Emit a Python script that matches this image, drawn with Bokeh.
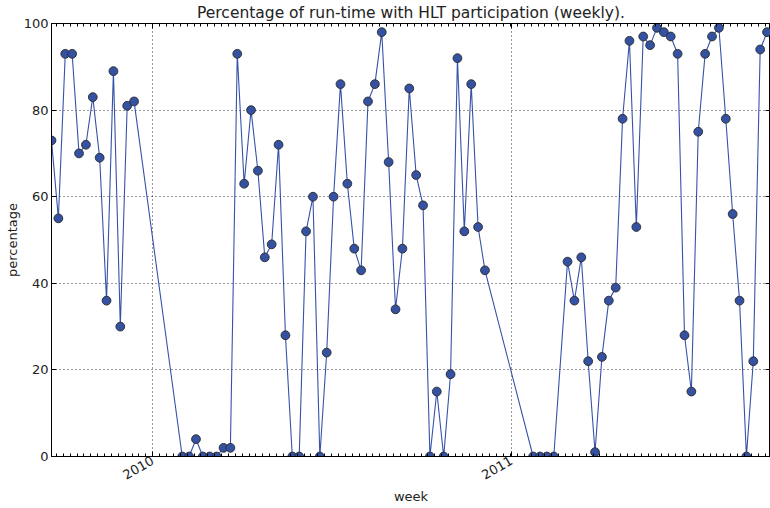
import math
import datetime as dt
from bokeh.plotting import figure
from bokeh.models import (ColumnDataSource, Range1d, FixedTicker, DatetimeAxis,
                          LinearAxis, DatetimeTickFormatter, CustomJSTickFormatter)
from bokeh.embed import file_html
from bokeh.resources import INLINE

# ---- data (weekly points) ----
dates = [
    "2009-09-20", "2009-09-27", "2009-10-04", "2009-10-11", "2009-10-18", "2009-10-25",
    "2009-11-01", "2009-11-08", "2009-11-15", "2009-11-22", "2009-11-29", "2009-12-06",
    "2009-12-13",
    "2010-01-31", "2010-02-07", "2010-02-14", "2010-02-21", "2010-02-28", "2010-03-07",
    "2010-03-14", "2010-03-21", "2010-03-28", "2010-04-04", "2010-04-11", "2010-04-18",
    "2010-04-25", "2010-05-02", "2010-05-09", "2010-05-16", "2010-05-23", "2010-05-30",
    "2010-06-06", "2010-06-13", "2010-06-20", "2010-06-27", "2010-07-04", "2010-07-11",
    "2010-07-18", "2010-07-25", "2010-08-01", "2010-08-08", "2010-08-15", "2010-08-22",
    "2010-08-29", "2010-09-05", "2010-09-12", "2010-09-19", "2010-09-26", "2010-10-03",
    "2010-10-10", "2010-10-17", "2010-10-24", "2010-10-31", "2010-11-07", "2010-11-14",
    "2010-11-21", "2010-11-28", "2010-12-05",
    "2011-01-23", "2011-01-30", "2011-02-06", "2011-02-13",
    "2011-02-27", "2011-03-06", "2011-03-13", "2011-03-20", "2011-03-27", "2011-04-03",
    "2011-04-10", "2011-04-17", "2011-04-24", "2011-05-01", "2011-05-08", "2011-05-15",
    "2011-05-22", "2011-05-29", "2011-06-05", "2011-06-12", "2011-06-19", "2011-06-26",
    "2011-07-03", "2011-07-10", "2011-07-17", "2011-07-24", "2011-07-31", "2011-08-07",
    "2011-08-14", "2011-08-21", "2011-08-28", "2011-09-04", "2011-09-11", "2011-09-18",
]
percentage = [
    73, 55, 93, 93, 70, 72, 83, 69, 36, 89, 30, 81, 82,
    0, 0, 4, 0, 0, 0, 2, 2, 93, 63, 80, 66, 46, 49, 72, 28,
    0, 0, 52, 60, 0, 24, 60, 86, 63, 48, 43, 82, 86, 98, 68, 34,
    48, 85, 65, 58, 0, 15, 0, 19, 92, 52, 86, 53, 43,
    0, 0, 0, 0,
    45, 36, 46, 22, 1, 23, 36, 39, 78, 96, 53, 97, 95, 99, 98, 97, 93,
    28, 15, 75, 93, 97, 99, 78, 56, 36, 0, 22, 94, 98,
]
year_ticks = ["2010-01-01", "2011-01-01"]
y_ticks = [0, 20, 40, 60, 80, 100]

EPOCH = dt.datetime(1970, 1, 1)
DAY = 86400000.0


def ms(s):
    return (dt.datetime.fromisoformat(s) - EPOCH).total_seconds() * 1000.0


xs = [dt.datetime.fromisoformat(d) for d in dates]
src = ColumnDataSource(dict(x=xs, y=percentage))

x_start = ms(dates[0])
x_end = ms(dates[-1]) + 3.5 * DAY

major = [ms(t) for t in year_ticks]
minor = []
t = major[0]
while t > x_start:
    t -= 7 * DAY
t += 7 * DAY
while t <= x_end:
    minor.append(t)
    t += 7 * DAY

FONT = "DejaVu Sans"
TXT = "#222222"

p = figure(width=770, height=508, x_axis_type="datetime",
           x_range=Range1d(x_start, x_end), y_range=Range1d(0, 100),
           output_backend="svg", toolbar_location=None,
           min_border_left=51, min_border_right=0, min_border_top=22,
           min_border_bottom=52,
           title="Percentage of run-time with HLT participation (weekly).")
p.background_fill_color = "white"
p.border_fill_color = "white"
p.outline_line_color = "black"
p.outline_line_width = 1

p.title.align = "center"
p.title.text_font = FONT
p.title.text_font_size = "15.5px"
p.title.text_font_style = "normal"
p.title.text_color = TXT
p.title.standoff = 3

xticker = FixedTicker(ticks=major, minor_ticks=minor)
yticker = FixedTicker(ticks=y_ticks, minor_ticks=[])
fmt = DatetimeTickFormatter(years="%Y", months="%Y", days="%Y", hours="%Y",
                            minutes="%Y", seconds="%Y", milliseconds="%Y",
                            context=None)
blank = CustomJSTickFormatter(code="return ''")

xa = p.xaxis[0]
xa.ticker = xticker
xa.formatter = fmt
xa.major_label_orientation = math.pi / 6
xa.axis_label = "week"
ya = p.yaxis[0]
ya.ticker = yticker
ya.axis_label = "percentage"

for ax in (xa, ya):
    ax.axis_line_color = "black"
    ax.major_tick_line_color = "black"
    ax.minor_tick_line_color = "black"
    ax.major_tick_in = 5
    ax.major_tick_out = 0
    ax.minor_tick_in = 3
    ax.minor_tick_out = 0
    ax.major_label_text_font = FONT
    ax.major_label_text_font_size = "13px"
    ax.major_label_text_color = TXT
    ax.major_label_standoff = 3
    ax.axis_label_text_font = FONT
    ax.axis_label_text_font_size = "13px"
    ax.axis_label_text_font_style = "normal"
    ax.axis_label_text_color = TXT
xa.axis_label_standoff = 2
ya.axis_label_standoff = 1

top = DatetimeAxis(ticker=xticker, formatter=blank,
                   major_label_standoff=0, major_tick_in=5, major_tick_out=0,
                   minor_tick_in=3, minor_tick_out=0, axis_line_color="black")
p.add_layout(top, "above")
right = LinearAxis(ticker=yticker, formatter=blank,
                   major_label_standoff=0, major_tick_in=5, major_tick_out=0,
                   minor_tick_in=0, minor_tick_out=0, axis_line_color="black")
p.add_layout(right, "right")

for g in (p.xgrid[0], p.ygrid[0]):
    g.grid_line_color = "black"
    g.grid_line_dash = "1 3"
    g.grid_line_width = 1
    g.grid_line_alpha = 0.8

p.line("x", "y", source=src, line_color="#3552a8", line_width=1.1)
p.scatter("x", "y", source=src, size=8.8, fill_color="#3451a2",
          line_color="#2a2a2a", line_width=0.9)

open("out.html", "w").write(file_html(p, INLINE))
